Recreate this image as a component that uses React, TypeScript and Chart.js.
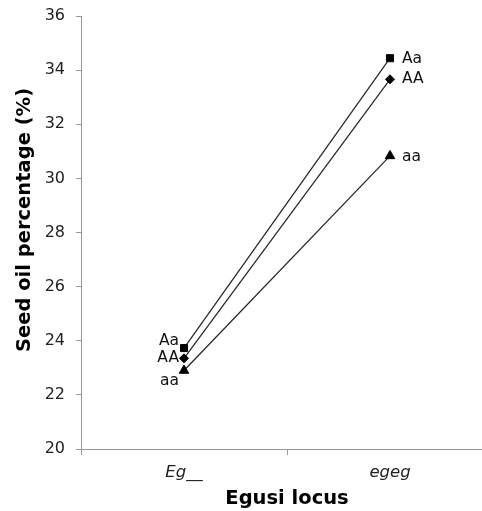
import React, { useEffect, useRef } from "react";
import { Chart, registerables } from "chart.js";

Chart.register(...registerables);

const categories = ["Eg__", "egeg"];
const seriesNames = ["Aa", "AA", "aa"];
const seriesAa = [23.73, 34.44];
const seriesAA = [23.35, 33.66];
const seriesaa = [22.9, 30.83];
const yTicks = [20, 22, 24, 26, 28, 30, 32, 34, 36];

const FONT = "'DejaVu Sans', Verdana, sans-serif";

const labelPlugin = {
  id: "pointLabels",
  afterDatasetsDraw(chart: any) {
    const ctx = chart.ctx;
    const leftDy = [-7, 0, 10];
    const rightDy = [1, 0, 1];
    ctx.save();
    ctx.font = `15.5px ${FONT}`;
    ctx.fillStyle = "#111";
    ctx.textBaseline = "middle";
    chart.data.datasets.forEach((ds: any, i: number) => {
      const meta = chart.getDatasetMeta(i);
      const p0 = meta.data[0];
      const p1 = meta.data[1];
      ctx.textAlign = "right";
      ctx.fillText(ds.label, p0.x - 5, p0.y + leftDy[i]);
      ctx.textAlign = "left";
      ctx.fillText(ds.label, p1.x + 12, p1.y + rightDy[i]);
    });
    ctx.restore();
  },
};

const yTitlePlugin = {
  id: "yTitle",
  afterDraw(chart: any) {
    const ctx = chart.ctx;
    ctx.save();
    ctx.font = `bold 19.5px ${FONT}`;
    ctx.fillStyle = "#000";
    ctx.textAlign = "center";
    ctx.textBaseline = "middle";
    ctx.translate(25, 220);
    ctx.rotate(-Math.PI / 2);
    ctx.fillText("Seed oil percentage (%)", 0, 0);
    ctx.restore();
  },
};

export default function App() {
  const ref = useRef<HTMLCanvasElement>(null);
  useEffect(() => {
    if (!ref.current) return;
    const chart = new Chart(ref.current, {
      type: "line",
      data: {
        labels: categories,
        datasets: [
          { label: seriesNames[0], data: seriesAa, pointStyle: "rect", pointRadius: 5 },
          { label: seriesNames[1], data: seriesAA, pointStyle: "rectRot", pointRadius: 4.5 },
          { label: seriesNames[2], data: seriesaa, pointStyle: "triangle", pointRadius: 5.5 },
        ].map((d) => ({
          ...d,
          borderColor: "#222",
          borderWidth: 1.2,
          pointBackgroundColor: "#000",
          pointBorderColor: "#000",
          pointBorderWidth: 1,
          tension: 0,
        })),
      },
      options: {
        animation: false,
        responsive: false,
        maintainAspectRatio: false,
        layout: { padding: { top: 16, right: 7, left: 0, bottom: 0 } },
        plugins: { legend: { display: false }, tooltip: { enabled: false } },
        scales: {
          x: {
            type: "category",
            offset: true,
            grid: {
              offset: true,
              drawOnChartArea: false,
              drawTicks: true,
              tickLength: 6,
              color: "#999",
            },
            border: { color: "#999" },
            ticks: {
              color: "#222",
              padding: 8,
              font: { family: FONT, size: 16.5, style: "italic" },
            },
            title: {
              display: true,
              text: "Egusi locus",
              color: "#000",
              font: { family: FONT, size: 19.5, weight: "bold" },
              padding: { top: 2, bottom: 0 },
            },
            afterFit(scale: any) {
              scale.height = 62;
              scale.paddingLeft = 0;
              scale.paddingRight = 0;
            },
          },
          y: {
            min: 20,
            max: 36,
            afterBuildTicks(scale: any) {
              scale.ticks = yTicks.map((v) => ({ value: v }));
            },
            grid: {
              drawOnChartArea: false,
              drawTicks: true,
              tickLength: 5,
              color: "#999",
            },
            border: { color: "#999" },
            ticks: {
              color: "#222",
              padding: 11,
              font: { family: FONT, size: 16 },
            },
            afterFit(scale: any) {
              scale.width = 81;
              scale.paddingTop = 0;
              scale.paddingBottom = 0;
            },
          },
        },
      },
      plugins: [labelPlugin, yTitlePlugin],
    });
    return () => chart.destroy();
  }, []);
  return (
    <div
      style={{
        position: "absolute",
        left: 0,
        top: 0,
        width: 482,
        height: 511,
        overflow: "hidden",
        background: "#fff",
      }}
    >
      <canvas ref={ref} width={500} height={511} style={{ display: "block" }} />
    </div>
  );
}
